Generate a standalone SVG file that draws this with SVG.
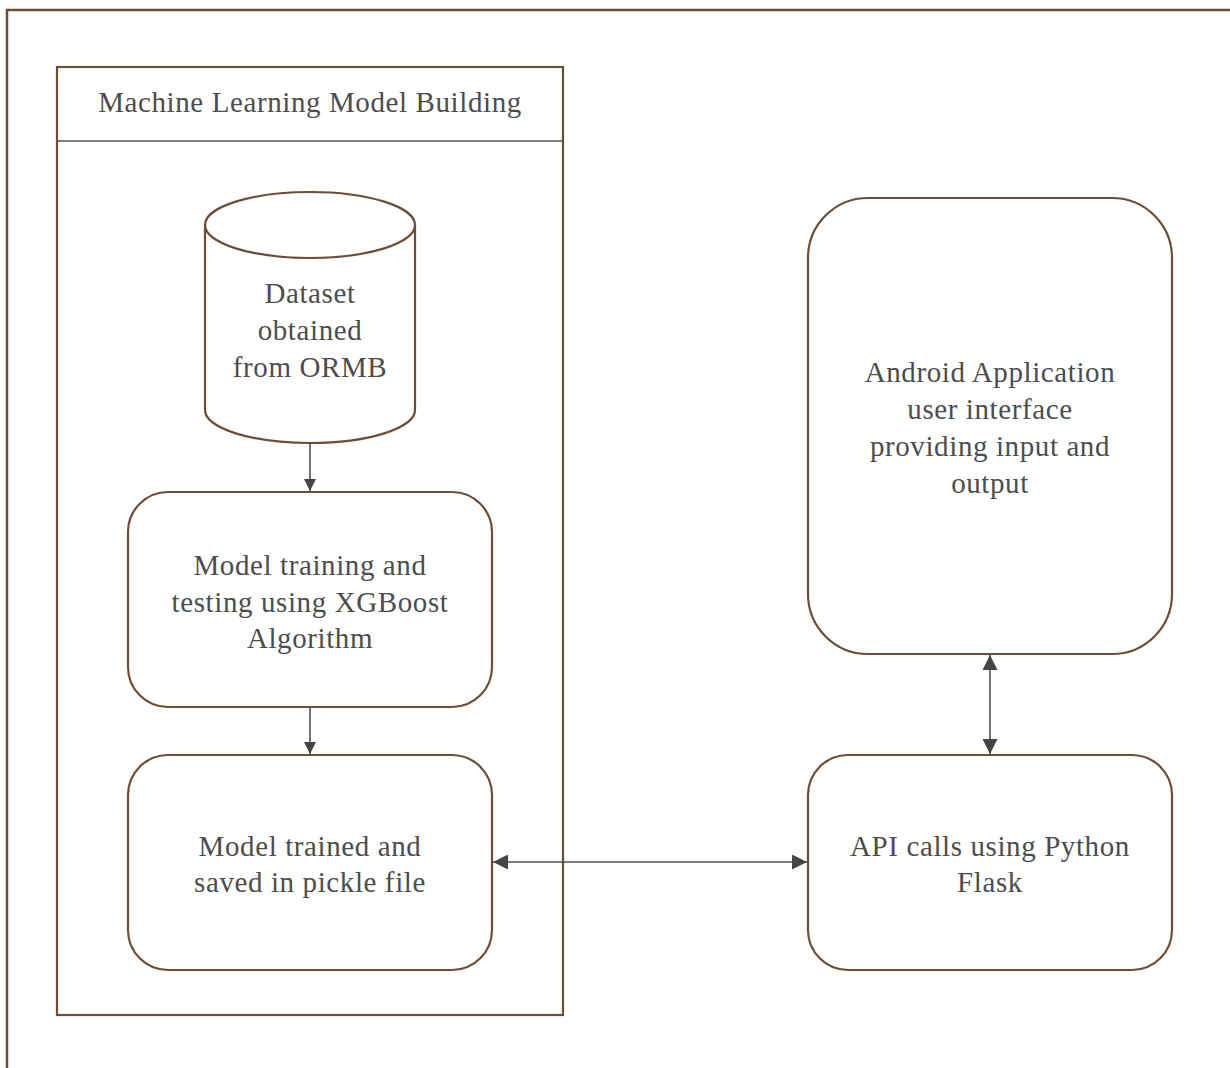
<svg xmlns="http://www.w3.org/2000/svg" width="1230" height="1068" viewBox="0 0 1230 1068">
<defs>
<style>
.sh{fill:#fff;stroke:#6e4d38;stroke-width:2.2}
.t{font-family:"Liberation Serif","DejaVu Serif",serif;font-size:29px;letter-spacing:0.6px;fill:#4d4d4d;text-anchor:middle}
.c{stroke:#505050;stroke-width:1.6;fill:none}
</style>
<marker id="ah" viewBox="0 0 10 10" refX="10" refY="5" markerWidth="12" markerHeight="12" markerUnits="userSpaceOnUse" orient="auto-start-reverse">
<path d="M0,0 L10,5 L0,10 z" fill="#454545"/>
</marker>
<marker id="ab" viewBox="0 0 10 10" refX="10" refY="5" markerWidth="15" markerHeight="15" markerUnits="userSpaceOnUse" orient="auto-start-reverse">
<path d="M0,0 L10,5 L0,10 z" fill="#454545"/>
</marker>
</defs>
<rect width="1230" height="1068" fill="#fff"/>
<g id="frame"><rect x="7" y="10" width="1240" height="1080" fill="none" stroke="#6e4d38" stroke-width="2.5"/></g>
<g id="container">
<rect x="57" y="67" width="506" height="948" class="sh"/>
<line x1="57" y1="141" x2="563" y2="141" stroke="#555" stroke-width="1.4"/>
<text class="t" x="310" y="112">Machine Learning Model Building</text>
</g>
<g id="dataset">
<path class="sh" d="M205,225 A105,33 0 0 1 415,225 L415,410 A105,33 0 0 1 205,410 Z"/>
<path class="sh" fill="none" d="M205,225 A105,33 0 0 0 415,225"/>
<text class="t" x="310" y="303">Dataset</text>
<text class="t" x="310" y="340">obtained</text>
<text class="t" x="310" y="377">from ORMB</text>
</g>
<g id="training">
<rect class="sh" x="128" y="492" width="364" height="215" rx="40"/>
<text class="t" x="310" y="575">Model training and</text>
<text class="t" x="310" y="612">testing using XGBoost</text>
<text class="t" x="310" y="648">Algorithm</text>
</g>
<g id="saved">
<rect class="sh" x="128" y="755" width="364" height="215" rx="40"/>
<text class="t" x="310" y="856">Model trained and</text>
<text class="t" x="310" y="892">saved in pickle file</text>
</g>
<g id="android">
<rect class="sh" x="808" y="198" width="364" height="456" rx="60"/>
<text class="t" x="990" y="382">Android Application</text>
<text class="t" x="990" y="419">user interface</text>
<text class="t" x="990" y="456">providing input and</text>
<text class="t" x="990" y="493">output</text>
</g>
<g id="api">
<rect class="sh" x="808" y="755" width="364" height="215" rx="40"/>
<text class="t" x="990" y="856">API calls using Python</text>
<text class="t" x="990" y="892">Flask</text>
</g>
<g id="connectors">
<line class="c" x1="310" y1="443" x2="310" y2="491" marker-end="url(#ah)"/>
<line class="c" x1="310" y1="707" x2="310" y2="754" marker-end="url(#ah)"/>
<line class="c" x1="493" y1="862" x2="807" y2="862" marker-start="url(#ab)" marker-end="url(#ab)"/>
<line class="c" x1="990" y1="655" x2="990" y2="754" marker-start="url(#ab)" marker-end="url(#ab)"/>
</g>
</svg>
